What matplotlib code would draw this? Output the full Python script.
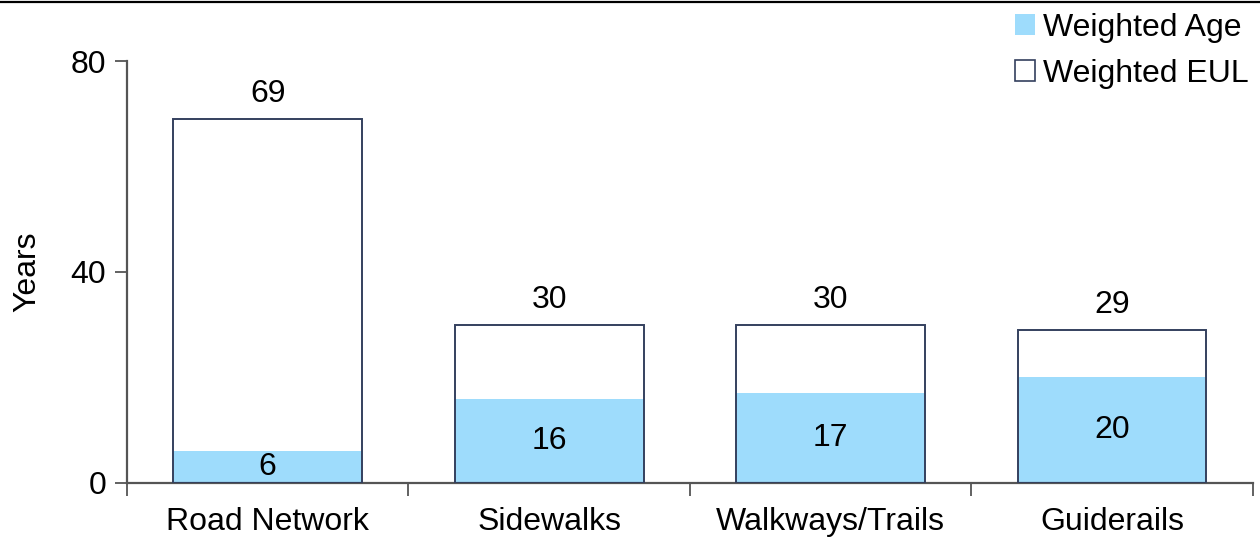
import matplotlib.pyplot as plt
import numpy as np
from matplotlib.patches import Patch
from matplotlib.lines import Line2D

plt.rcParams['font.family'] = ['Liberation Sans', 'DejaVu Sans']

categories = ["Road Network", "Sidewalks", "Walkways/Trails", "Guiderails"]
weighted_age = [6, 16, 17, 20]
weighted_eul = [69, 30, 30, 29]
y_ticks = [0, 40, 80]

AGE_COLOR = "#9edcfc"
EDGE_COLOR = "#34405e"
AXIS_COLOR = "#555555"
FS = 23

fig = plt.figure(figsize=(12.6, 5.37), dpi=100)
ax = fig.add_axes([0.1008, 0.1006, 0.8936, 0.7858])

x = np.arange(len(categories))
width = 0.67

ax.bar(x, weighted_age, width=width, color=AGE_COLOR, edgecolor="none", zorder=2)
ax.bar(x, weighted_eul, width=width, facecolor="none", edgecolor=EDGE_COLOR,
       linewidth=1.4, zorder=3)

for xi, a, e in zip(x, weighted_age, weighted_eul):
    ax.text(xi, a / 2, str(a), ha="center", va="center", fontsize=FS, zorder=4)
    ax.annotate(str(e), (xi, e), xytext=(0, 7), textcoords="offset points",
                ha="center", va="bottom", fontsize=FS)

ax.set_xlim(-0.5, len(categories) - 0.5)
ax.set_ylim(0, 80)
ax.set_yticks(y_ticks)
ax.tick_params(axis="y", labelsize=FS, length=9, width=1.3, color=AXIS_COLOR, pad=6)

# category labels centered, tick marks on the category boundaries
ax.set_xticks(np.arange(len(categories) + 1) - 0.5)
ax.set_xticklabels([])
ax.set_xticks(x, minor=True)
ax.set_xticklabels(categories, minor=True, fontsize=FS)
ax.tick_params(axis="x", which="major", length=9, width=1.3, color=AXIS_COLOR)
ax.tick_params(axis="x", which="minor", length=0, pad=17)

for side in ("top", "right"):
    ax.spines[side].set_visible(False)
for side in ("left", "bottom"):
    ax.spines[side].set_color(AXIS_COLOR)
    ax.spines[side].set_linewidth(1.6)

ax.set_ylabel("Years", fontsize=FS, labelpad=20)

handles = [
    Patch(facecolor=AGE_COLOR, edgecolor="none", label="Weighted Age"),
    Patch(facecolor="white", edgecolor=EDGE_COLOR, linewidth=1.2, label="Weighted EUL"),
]
fig.legend(handles=handles, loc="upper right", bbox_to_anchor=(1.006, 1.012),
           frameon=False, fontsize=FS, handlelength=0.6, handleheight=0.6,
           handletextpad=0.25, labelspacing=0.5, borderaxespad=0.2)

# rule across the top edge
fig.add_artist(Line2D([0, 1], [0.997, 0.997], transform=fig.transFigure,
                      color="black", linewidth=1.6))

fig.savefig("out.png", dpi=100)
